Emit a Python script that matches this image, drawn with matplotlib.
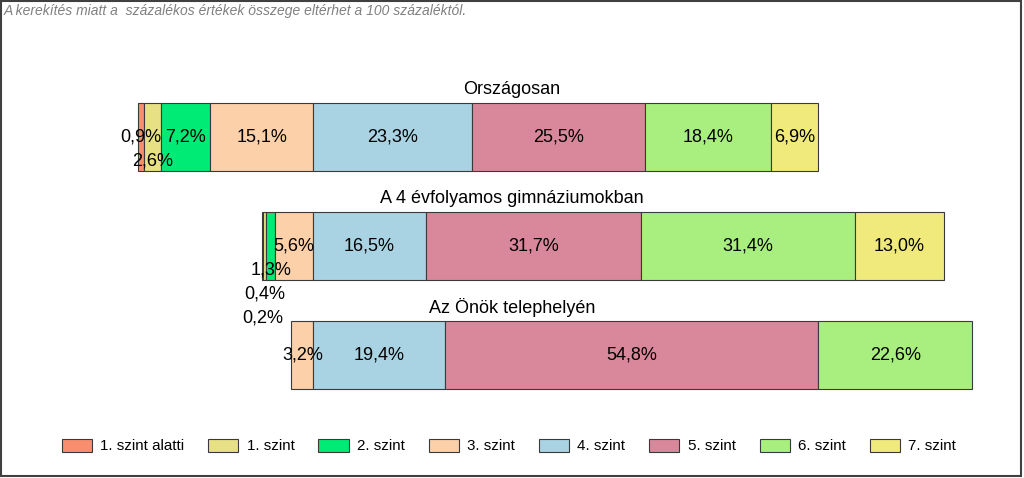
import matplotlib
matplotlib.use("Agg")
from matplotlib import pyplot as plt
from matplotlib.patches import Patch, Rectangle

plt.rcParams["font.family"] = ["Liberation Sans", "DejaVu Sans"]

# data
levels = ["1. szint alatti", "1. szint", "2. szint", "3. szint",
          "4. szint", "5. szint", "6. szint", "7. szint"]
colors = ["#F98E6E", "#E8E084", "#00EA76", "#FCD0A8",
          "#A9D3E2", "#D8889A", "#A9EF7F", "#F0EA7C"]
groups = ["Országosan", "A 4 évfolyamos gimnáziumokban", "Az Önök telephelyén"]
orszagosan = [0.9, 2.6, 7.2, 15.1, 23.3, 25.5, 18.4, 6.9]
gimnazium = [0.2, 0.4, 1.3, 5.6, 16.5, 31.7, 31.4, 13.0]
telephely = [0.0, 0.0, 0.0, 3.2, 19.4, 54.8, 22.6, 0.0]
values = [orszagosan, gimnazium, telephely]
note = "A kerekítés miatt a  százalékos értékek összege eltérhet a 100 százaléktól."

fig = plt.figure(figsize=(10.24, 4.78), dpi=100)
ax = fig.add_axes([0, 0, 1, 1])
ax.set_xlim(-46.0, 104.4)
ax.set_ylim(3.128, -1.257)
ax.axis("off")

bar_h = 0.624
step = 0.22  # downward shift for crowded labels

fig.canvas.draw()
renderer = fig.canvas.get_renderer()

for i, vals in enumerate(values):
    # bars aligned on the 3. / 4. szint boundary
    left = -sum(vals[:4])
    lefts = []
    for k, v in enumerate(vals):
        lefts.append(left)
        if v > 0:
            ax.barh(i, v, left=left, height=bar_h, color=colors[k],
                    edgecolor="#3a3a3a", linewidth=0.8)
        left += v

    ax.text(0.5, i - bar_h / 2 - 0.12, groups[i], transform=ax.get_yaxis_transform(),
            ha="center", va="center", fontsize=13.0)

    # value labels, pushed down when they would overlap
    placed = []
    for k in range(len(vals) - 1, -1, -1):
        v = vals[k]
        if v <= 0:
            continue
        xc = lefts[k] + v / 2
        t = ax.text(xc, i, f"{v:.1f}%".replace(".", ","), ha="center", va="center",
                    fontsize=13.0)
        bb = t.get_window_extent(renderer).transformed(ax.transData.inverted())
        x0, x1 = bb.x0, bb.x1
        lvl = 0
        while any(l == lvl and x0 < b1 and x1 > b0 for b0, b1, l in placed):
            lvl += 1
        placed.append((x0, x1, lvl))
        t.set_y(i + lvl * step)

# note on top
fig.text(0.004, 0.978, note, ha="left", va="center", fontsize=10,
         style="italic", color="#808080")

# legend
handles = [Patch(facecolor=c, edgecolor="#3a3a3a", linewidth=0.8, label=l)
           for c, l in zip(colors, levels)]
fig.legend(handles=handles, loc="center", bbox_to_anchor=(0.497, 1 - 446 / 478),
           ncol=8, frameon=False, fontsize=10.9, handlelength=2.0, handleheight=0.95,
           handletextpad=0.55, columnspacing=1.57)

# frame around the figure
fig.patches.append(Rectangle((1 / 1024, 2 / 478), 1020 / 1024, 475 / 478,
                             transform=fig.transFigure, fill=False,
                             edgecolor="#404040", linewidth=1.5))

fig.savefig("out.png", dpi=100)
